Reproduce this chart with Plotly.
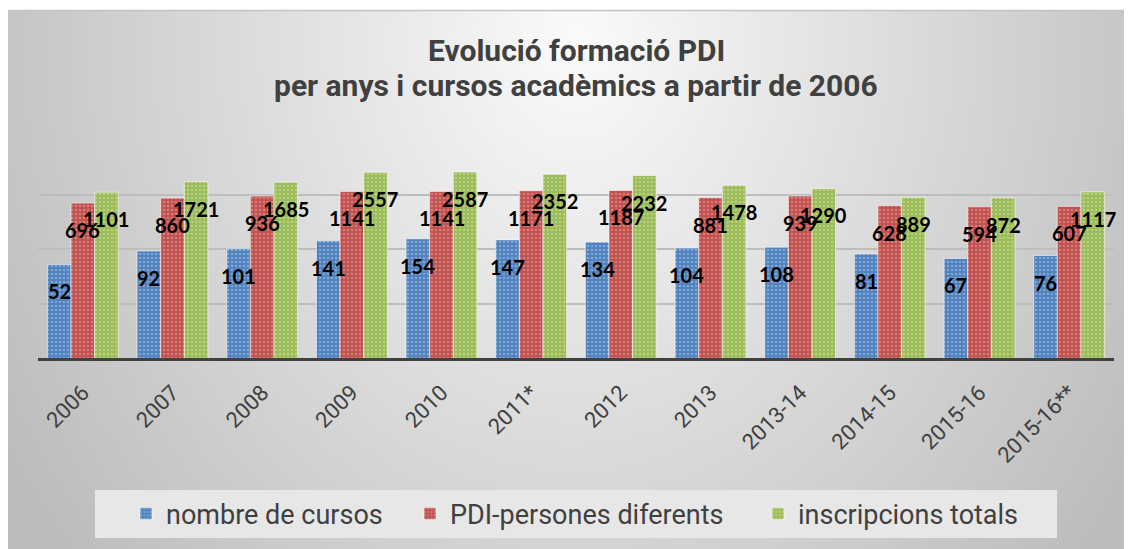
import base64
import struct
import zlib

import numpy as np
import plotly.graph_objects as go

# ---------------- data ----------------
categories = ["2006", "2007", "2008", "2009", "2010", "2011*", "2012", "2013",
              "2013-14", "2014-15", "2015-16", "2015-16**"]
nombre_cursos = [52, 92, 101, 141, 154, 147, 134, 104, 108, 81, 67, 76]
pdi_persones = [696, 860, 936, 1141, 1141, 1171, 1187, 881, 939, 628, 594, 607]
inscripcions = [1101, 1721, 1685, 2557, 2587, 2352, 2232, 1478, 1290, 889, 872, 1117]
series_names = ["nombre de cursos", "PDI-persones diferents", "inscripcions totals"]

title_lines = ["Evolució formació PDI", "per anys i cursos acadèmics a partir de 2006"]

# ---------------- layout constants (screen px; page body has 8px margin) ----------------
OFF = 8
SW, SH = 1132, 549
W, H = SW - OFF, SH - OFF
PLOT_L, PLOT_R, PLOT_T, PLOT_B = 38, 1114, 140, 358   # screen px
ML, MR, MT, MB = PLOT_L - OFF, SW - PLOT_R, PLOT_T - OFF, SH - PLOT_B
PW, PH = W - ML - MR, H - MT - MB
BARGAP = 0.21

colors = ["#4f81bd", "#c0504d", "#9bbb59"]
dot_colors = ["rgba(190,210,240,0.45)", "rgba(240,180,178,0.45)", "rgba(215,235,175,0.45)"]


def px_x(sx):
    return (sx - PLOT_L) / PW


def px_y(sy):
    return (PLOT_B - sy) / PH


# background gradient image (style only)
def png_gray(arr):
    h, w = arr.shape
    raw = b"".join(b"\x00" + arr[i].tobytes() for i in range(h))

    def chunk(t, data):
        return (struct.pack(">I", len(data)) + t + data
                + struct.pack(">I", zlib.crc32(t + data) & 0xffffffff))

    ihdr = struct.pack(">IIBBBBB", w, h, 8, 0, 0, 0, 0)
    return (b"\x89PNG\r\n\x1a\n" + chunk(b"IHDR", ihdr)
            + chunk(b"IDAT", zlib.compress(raw, 9)) + chunk(b"IEND", b""))


BG_L, BG_T = 7, 10
gw, gh = 300, 144
gx = np.linspace(BG_L, SW, gw)
gy = np.linspace(BG_T, SH, gh)
XX, YY = np.meshgrid(gx, gy)
d = np.sqrt(((XX - 575) / 600.0) ** 2 + ((YY - 40) / 720.0) ** 2)
shade = 251 - 56 * np.clip(d, 0, 1.15)
bg = np.clip(shade, 188, 252).astype(np.uint8)
bg_uri = "data:image/png;base64," + base64.b64encode(png_gray(bg)).decode()

fig = go.Figure()

all_series = [nombre_cursos, pdi_persones, inscripcions]
legend_ids = ["legend", "legend2", "legend3"]
for name, vals, col, dcol, lg in zip(series_names, all_series, colors, dot_colors, legend_ids):
    fig.add_trace(go.Bar(
        x=categories, y=vals, name=name, legend=lg,
        marker=dict(
            color=col,
            line=dict(color="rgba(255,255,255,0.55)", width=1),
            pattern=dict(shape=".", bgcolor=col, fgcolor=dcol,
                         size=4, solidity=0.35),
        ),
        hoverinfo="x+y+name",
    ))

# data labels (x given as category index on the category axis)
cat_w = PW / len(categories)
bar_w = cat_w * (1 - BARGAP) / 3
annotations = []
for si, vals in enumerate(all_series):
    for ci, v in enumerate(vals):
        annotations.append(dict(
            x=ci, y=float(np.log10(v)), xref="x", yref="y",
            text=f"<b>{v}</b>", showarrow=False,
            xshift=float((si - 1) * bar_w), yshift=-27,
            font=dict(family="Lato, Open Sans, sans-serif", size=20, color="#000000"),
        ))

# title, two lines
for line, cy in zip(title_lines, [50, 86]):
    annotations.append(dict(
        text=f"<b>{line}</b>",
        xref="paper", yref="paper",
        x=px_x(576), y=px_y(cy),
        xanchor="center", yanchor="middle", showarrow=False,
        font=dict(family="Roboto, sans-serif", size=30, color="#404040"),
    ))

shapes = [
    # legend box
    dict(type="rect", xref="paper", yref="paper",
         x0=px_x(95), x1=px_x(1057), y0=px_y(538), y1=px_y(490),
         fillcolor="#e7e7e7", line=dict(width=0), layer="below"),
    # frame lines
    dict(type="line", xref="paper", yref="paper",
         x0=px_x(BG_L), x1=px_x(SW), y0=px_y(BG_T + 0.5), y1=px_y(BG_T + 0.5),
         line=dict(color="#c4c4c4", width=1.5), layer="below"),
    dict(type="line", xref="paper", yref="paper",
         x0=px_x(BG_L + 0.5), x1=px_x(BG_L + 0.5), y0=px_y(BG_T), y1=px_y(SH),
         line=dict(color="#c4c4c4", width=1), layer="below"),
]

legend_font = dict(family="Roboto, sans-serif", size=27, color="#404040")
legend_text_starts = [166, 450, 798]
legends = {}
for lg, ts in zip(legend_ids, legend_text_starts):
    legends[lg] = dict(
        orientation="h", x=px_x(ts - 40), xanchor="left",
        y=px_y(514), yanchor="middle",
        bgcolor="rgba(0,0,0,0)", font=legend_font,
    )

fig.update_layout(
    width=W, height=H,
    template="none",
    margin=dict(l=ML, r=MR, t=MT, b=MB, autoexpand=False),
    paper_bgcolor="#ffffff",
    plot_bgcolor="rgba(0,0,0,0)",
    barmode="group", bargap=BARGAP, bargroupgap=0,
    showlegend=True,
    images=[dict(
        source=bg_uri, xref="paper", yref="paper",
        x=px_x(BG_L), y=px_y(BG_T),
        sizex=(SW - BG_L) / PW, sizey=(SH - BG_T) / PH,
        xanchor="left", yanchor="top", sizing="stretch", layer="below",
    )],
    shapes=shapes,
    annotations=annotations,
    xaxis=dict(
        type="category", categoryorder="array", categoryarray=categories,
        range=[-0.5, len(categories) - 0.5],
        tickangle=-45, automargin=False,
        showline=True, linecolor="#404040", linewidth=3,
        showgrid=False, ticks="",
        ticklabelstandoff=10,
        tickfont=dict(family="Roboto, sans-serif", size=22, color="#404040"),
    ),
    yaxis=dict(
        type="log", range=[0, 4], dtick=1, automargin=False,
        showticklabels=False, ticks="", showline=False, zeroline=False,
        showgrid=True, gridcolor="#bdbdbd", gridwidth=1.8,
    ),
    **legends,
)

fig.write_html("out.html")
